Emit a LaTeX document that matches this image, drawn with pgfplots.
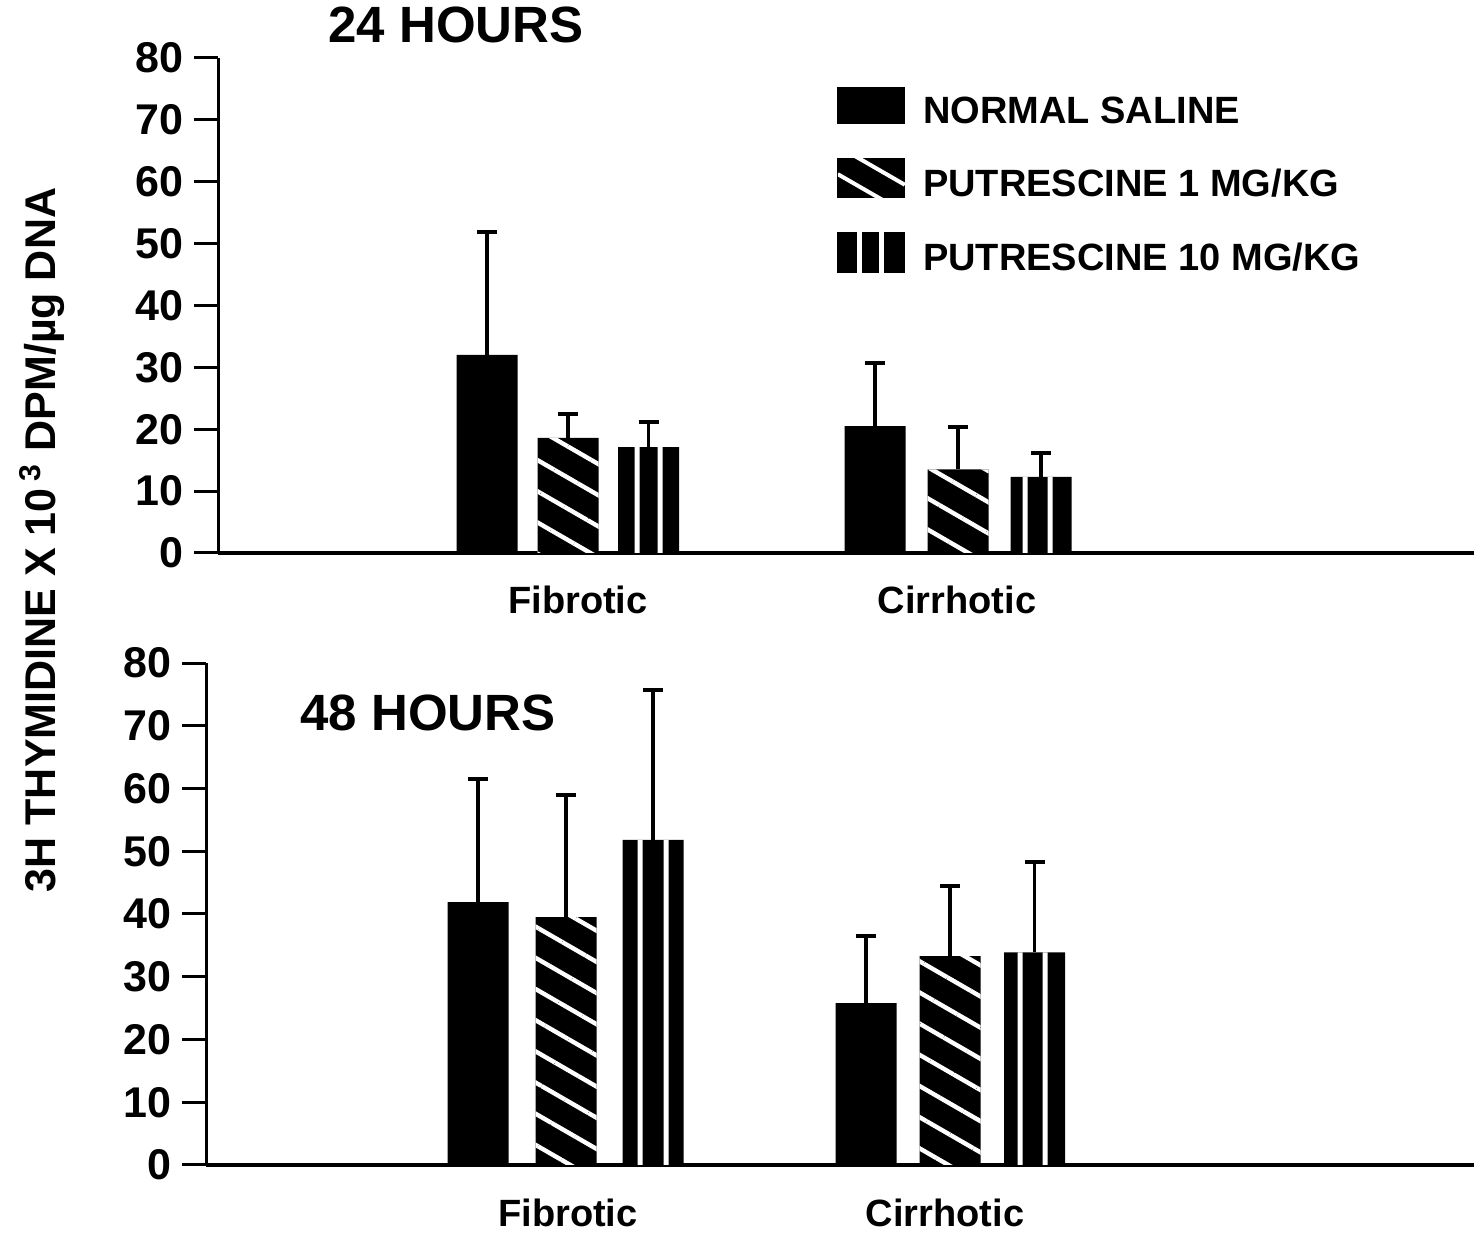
\documentclass[border=0pt]{standalone}
\usepackage{fontspec}
\setmainfont{Liberation Sans}
\usepackage{pgfplots}
\pgfplotsset{compat=1.18}
\usetikzlibrary{patterns.meta}

\pgfplotsset{
  panel/.style={
    scale only axis,
    axis x line=bottom, axis y line=left,
    axis line style={-},
    x axis line style={line width=2pt},
    y axis line style={line width=1.5pt},
    ymin=0, ymax=80, ytick={0,10,...,80},
    tick align=outside,
    major tick length=12pt,
    ytick style={line width=1.5pt, black},
    xtick style={draw=none},
    /pgf/number format/assume math mode=true,
    yticklabel style={font=\fontsize{21.5}{24}\selectfont\bfseries, inner sep=0pt, xshift=-5pt},
    xticklabel style={font=\fontsize{19}{22}\selectfont\bfseries, inner sep=0pt},
    clip=false,
  },
  errs/.style={
    error bars/y dir=plus, error bars/y explicit,
    error bars/error bar style={line width=1.7pt, black},
    error bars/error mark options={rotate=90, line width=2pt, mark size=5pt, black}},
  ns/.style={ybar, bar shift=0pt, bar width=61, fill=black, draw=none, errs},
  pone/.style={ybar, bar shift=0pt, bar width=61, fill=black, draw=none,
    postaction={pattern={Lines[angle=-30,distance=13.5pt,line width=2.2pt]}, pattern color=white}, errs},
  pten/.style={ybar, bar shift=0pt, bar width=61, fill=black, draw=none, errs},
  stripe/.style={ybar, bar shift=0pt, bar width=5, fill=white, draw=none, forget plot},
}

\begin{document}
\begin{tikzpicture}
\useasboundingbox (0,0) rectangle (737pt,620.5pt);

% ---------------- 24 HOURS ----------------
\begin{axis}[panel,
  at={(109pt,344pt)}, anchor=south west,
  width=628pt, height=247.5pt,
  xmin=218, xmax=1474,
  xtick={578,957}, xticklabels={Fibrotic,Cirrhotic},
  xticklabel style={yshift=-4.5pt},
  legend style={at={(axis cs:837,75.3)}, anchor=north west, draw=none, fill=none,
    inner sep=0pt, row sep=17pt, column sep=9pt,
    font=\fontsize{19}{22}\selectfont\bfseries,
    nodes={inner sep=0pt, text height=18pt, text depth=0pt}},
  legend cell align=left,
]
\addplot[ns, forget plot] coordinates {(487,32.0) +- (0,19.9) (875,20.5) +- (0,10.2)};
\addplot[pone, forget plot] coordinates {(568,18.6) +- (0,3.9) (958,13.5) +- (0,6.9)};
\addplot[pten, forget plot] coordinates {(648.5,17.1) +- (0,4.1) (1041,12.3) +- (0,3.9)};
\addplot[stripe] coordinates {(637,17.1) (660,17.1) (1025,12.3) (1050,12.3)};

\addlegendimage{legend image code/.code={\fill[black] (0pt,-9pt) rectangle (33.5pt,9pt);}}
\addlegendentry{NORMAL SALINE}
\addlegendimage{legend image code/.code={
  \begin{scope}
  \clip (0pt,-9.75pt) rectangle (33.5pt,9.75pt);
  \fill[black] (0pt,-9.75pt) rectangle (33.5pt,9.75pt);
  \draw[white,line width=2pt] (0pt,2pt) -- (33.5pt,-17.3pt);
  \draw[white,line width=2pt] (0pt,16pt) -- (33.5pt,-3.3pt);
  \end{scope}}}
\addlegendentry{PUTRESCINE 1 MG/KG}
\addlegendimage{legend image code/.code={
  \fill[black] (0pt,-10pt) rectangle (9.5pt,10pt);
  \fill[black] (12.5pt,-10pt) rectangle (20.5pt,10pt);
  \fill[black] (23.5pt,-10pt) rectangle (33.5pt,10pt);}}
\addlegendentry{PUTRESCINE 10 MG/KG}
\end{axis}

% ---------------- 48 HOURS ----------------
\begin{axis}[panel,
  at={(103pt,38pt)}, anchor=south west,
  width=634pt, height=251pt,
  xmin=206, xmax=1474,
  xtick={568,945}, xticklabels={Fibrotic,Cirrhotic},
  xticklabel style={yshift=-5pt},
]
\addplot[ns] coordinates {(478,41.9) +- (0,19.6) (866,25.8) +- (0,10.7)};
\addplot[pone] coordinates {(566,39.5) +- (0,19.5) (950,33.3) +- (0,11.2)};
\addplot[pten] coordinates {(653,51.8) +- (0,23.9) (1034.5,33.9) +- (0,14.4)};
\addplot[stripe] coordinates {(640,51.8) (666,51.8) (1020,33.9) (1045,33.9)};
\end{axis}

% titles and y label
\node[anchor=base west, font=\fontsize{25.5}{30}\selectfont\bfseries, inner sep=0pt] at (164pt,599pt) {24 HOURS};
\node[anchor=base west, font=\fontsize{25.5}{30}\selectfont\bfseries, inner sep=0pt] at (150pt,255pt) {48 HOURS};
\node[rotate=90, font=\fontsize{21.5}{25}\selectfont\bfseries, inner sep=0pt] at (21pt,350.5pt) {3H THYMIDINE X 10\,\textsuperscript{3} DPM/µg DNA};
\end{tikzpicture}
\end{document}
